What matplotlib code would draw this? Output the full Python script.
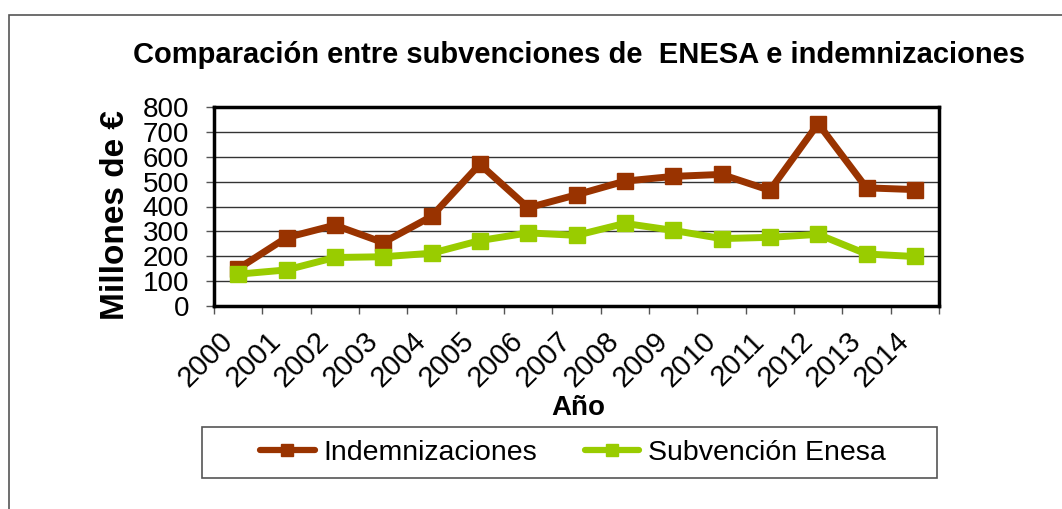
import numpy as np
import matplotlib.pyplot as plt
from matplotlib.patches import Rectangle
from matplotlib.lines import Line2D

plt.rcParams['font.family'] = ['Liberation Sans', 'DejaVu Sans']

# Data (millones de euros)
years = ['2000', '2001', '2002', '2003', '2004', '2005', '2006', '2007',
         '2008', '2009', '2010', '2011', '2012', '2013', '2014']
indemnizaciones = [150, 275, 325, 255, 360, 570, 395, 447, 502, 521, 529, 465, 733, 475, 468]
subvencion = [128, 145, 195, 198, 212, 263, 294, 284, 332, 304, 271, 276, 288, 209, 199]

W, H = 1062, 509
fig = plt.figure(figsize=(W / 100, H / 100), dpi=100)

# outer chart border (Excel chart area)
fig.patches.append(Rectangle((9 / W, -0.05), 1.1, 1 - 15 / H + 0.05,
                             transform=fig.transFigure, fill=False,
                             edgecolor='#555555', lw=1.2))

ax = fig.add_axes([214 / W, 1 - 306 / H, (939 - 214) / W, (306 - 107) / H])
x = np.arange(len(years))

ax.plot(x, indemnizaciones, color='#993300', lw=5, marker='s', ms=11.5,
        label='Indemnizaciones')
ax.plot(x, subvencion, color='#99CC00', lw=5, marker='s', ms=11.5,
        label='Subvención Enesa')

ax.set_xlim(-0.5, len(years) - 0.5)
ax.set_ylim(0, 800)
ax.set_yticks(np.arange(0, 801, 100))
ax.yaxis.grid(True, color='#333333', lw=1)
ax.set_axisbelow(True)

ax.set_xticks(x)
ax.set_xticklabels(years, rotation=45, ha='right', va='top', fontsize=21)
ax.set_xticks(np.arange(-0.5, len(years), 1), minor=True)
ax.tick_params(axis='x', which='major', length=0, pad=15)
ax.tick_params(axis='x', which='minor', length=6, width=1, color='#555555')
ax.tick_params(axis='y', labelsize=20, length=6, width=1, color='#555555', pad=12)

for s in ax.spines.values():
    s.set_linewidth(2.5)
    s.set_color('black')

ax.set_ylabel('Millones de €', fontsize=24, fontweight='bold')
ax.yaxis.set_label_coords(-0.115, 0.455)

fig.text(578 / W, 1 - 408 / H, 'Año', ha='center', va='center',
         fontsize=20, fontweight='bold')
fig.text(579 / W, 1 - 55 / H,
         'Comparación entre subvenciones de  ENESA e indemnizaciones',
         ha='center', va='center', fontsize=21, fontweight='bold')

# legend: frame drawn separately to match the wide Excel box
fig.patches.append(Rectangle((202 / W, 1 - 478 / H), (937 - 202) / W, 51 / H,
                             transform=fig.transFigure, fill=False,
                             edgecolor='#555555', lw=1.2))
handles = [Line2D([], [], color='#993300', lw=4.5, marker='s', ms=9,
                  solid_capstyle='round'),
           Line2D([], [], color='#99CC00', lw=4.5, marker='s', ms=9,
                  solid_capstyle='round')]
fig.legend(handles, ['Indemnizaciones', 'Subvención Enesa'], loc='center',
           bbox_to_anchor=(573 / W, 1 - 453 / H), ncol=2, fontsize=20.5,
           frameon=False, handlelength=1.9, handletextpad=0.3,
           columnspacing=1.7)

fig.savefig('out.png', dpi=100, facecolor='white')
